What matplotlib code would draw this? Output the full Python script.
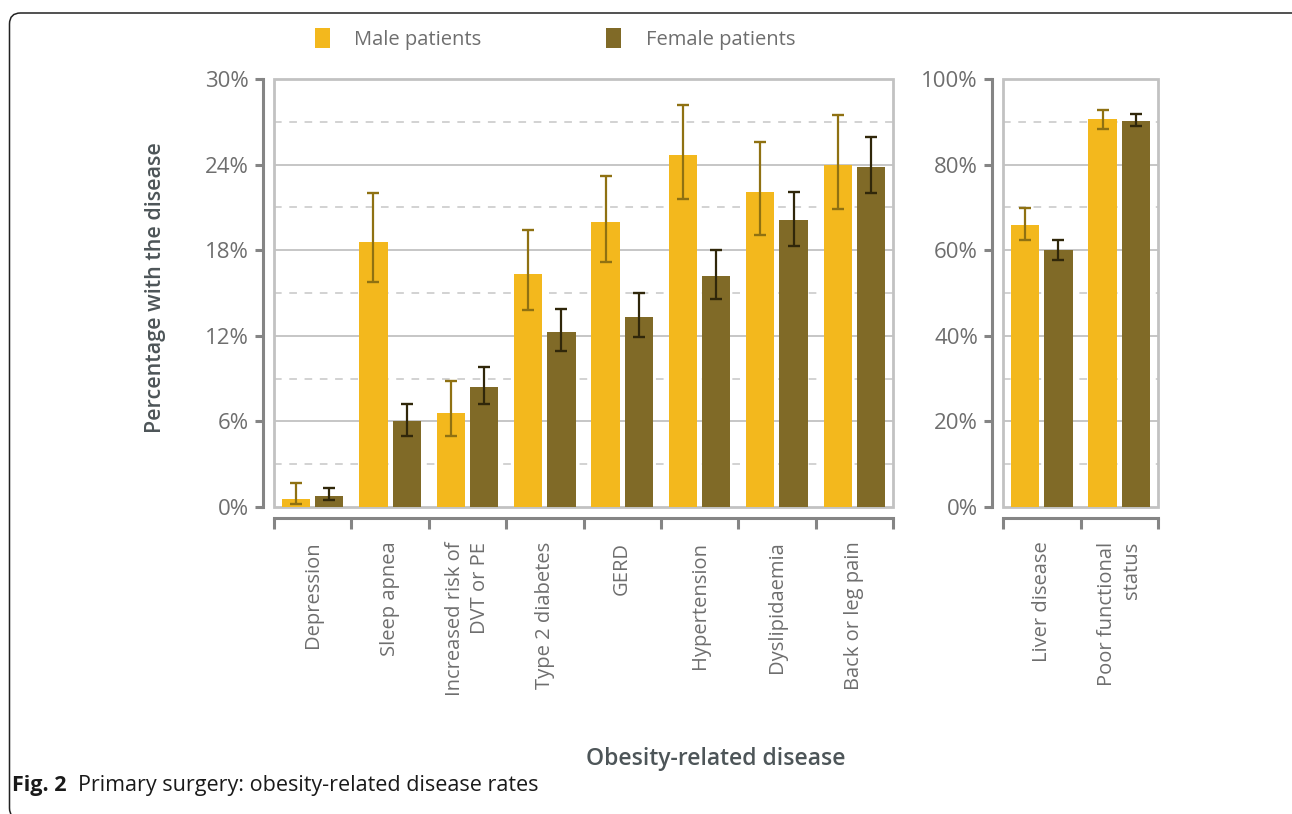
import numpy as np
import matplotlib
matplotlib.use("Agg")
import matplotlib.pyplot as plt
from matplotlib.patches import Patch, Rectangle, FancyBboxPatch
from matplotlib.transforms import IdentityTransform
from matplotlib.ticker import FixedLocator, FuncFormatter

plt.rcParams['font.family'] = ['Open Sans', 'DejaVu Sans']

# ---- data -------------------------------------------------------------
diseases_a = ["Depression", "Sleep apnea", "Increased risk of\nDVT or PE",
              "Type 2 diabetes", "GERD", "Hypertension", "Dyslipidaemia",
              "Back or leg pain"]
male_a = [0.55, 18.6, 6.6, 16.3, 20.0, 24.7, 22.1, 24.0]
male_a_lo = [0.2, 15.8, 5.0, 13.8, 17.2, 21.6, 19.1, 20.9]
male_a_hi = [1.65, 22.0, 8.85, 19.4, 23.2, 28.2, 25.6, 27.5]
female_a = [0.75, 6.0, 8.4, 12.3, 13.3, 16.2, 20.1, 23.8]
female_a_lo = [0.5, 5.0, 7.25, 10.9, 11.9, 14.6, 18.3, 22.0]
female_a_hi = [1.3, 7.25, 9.8, 13.9, 15.0, 18.0, 22.05, 25.9]

diseases_b = ["Liver disease", "Poor functional\nstatus"]
male_b = [65.9, 90.6]
male_b_lo = [62.4, 88.3]
male_b_hi = [69.9, 92.8]
female_b = [60.0, 90.3]
female_b_lo = [57.7, 89.0]
female_b_hi = [62.5, 91.8]

series_names = ["Male patients", "Female patients"]

# ---- styling ----------------------------------------------------------
C_MALE = "#F3B81D"
C_FEMALE = "#806A27"
C_MALE_ERR = "#8F7112"
C_FEMALE_ERR = "#30270A"
C_AXIS = "#858585"
C_FRAME = "#C2C2C2"
C_GRID = "#C6C6C6"
C_TEXT = "#6E6E6E"
C_TITLE = "#4D5558"
FS = 14.5
FS_Y = 16

W, H = 1292, 814
fig = plt.figure(figsize=(W / 100, H / 100), dpi=100)


def px_axes(x0, y0, x1, y1):
    return fig.add_axes([x0 / W, 1 - y1 / H, (x1 - x0) / W, (y1 - y0) / H])


def draw_panel(ax, cats, m, m_lo, m_hi, f, f_lo, f_hi, ymax, major, minor):
    n = len(cats)
    x = np.arange(n)
    off, bw = 0.215, 0.365
    m = np.asarray(m); f = np.asarray(f)
    m_err = [m - np.asarray(m_lo), np.asarray(m_hi) - m]
    f_err = [f - np.asarray(f_lo), np.asarray(f_hi) - f]
    ax.bar(x - off, m, bw, color=C_MALE, zorder=3)
    ax.bar(x + off, f, bw, color=C_FEMALE, zorder=3)
    ax.errorbar(x - off, m, yerr=m_err, fmt="none", ecolor=C_MALE_ERR,
                elinewidth=1.6, capsize=4.2, capthick=1.7, zorder=4)
    ax.errorbar(x + off, f, yerr=f_err, fmt="none", ecolor=C_FEMALE_ERR,
                elinewidth=1.6, capsize=4.2, capthick=1.7, zorder=4)

    ax.set_xlim(-0.5, n - 0.5)
    ax.set_ylim(0, ymax)

    # gridlines: solid at labelled ticks, dashed in between
    for v in np.arange(major, ymax, major):
        ax.axhline(v, color=C_GRID, lw=1.4, zorder=1)
    for v in np.arange(minor, ymax, major):
        ax.axhline(v, color=C_GRID, lw=1.1, ls=(0, (5, 5)), zorder=1)

    # light frame around the plotting area
    ax.add_patch(Rectangle((0, 0), 1, 1, transform=ax.transAxes, fill=False,
                           edgecolor=C_FRAME, lw=2.0, zorder=2, clip_on=False))

    for s in ("top", "right"):
        ax.spines[s].set_visible(False)
    ax.spines["left"].set_position(("outward", 8))
    ax.spines["bottom"].set_position(("outward", 8))
    for s in ("left", "bottom"):
        ax.spines[s].set_color(C_AXIS)
        ax.spines[s].set_linewidth(2.2)

    ax.yaxis.set_major_locator(FixedLocator(np.arange(0, ymax + 1e-9, major)))
    ax.yaxis.set_major_formatter(FuncFormatter(lambda v, p: f"{v:.0f}%"))
    ax.tick_params(axis="y", length=6, width=2.2, color=C_AXIS,
                   labelsize=FS_Y, labelcolor=C_TEXT, pad=4)

    ax.set_xticks(x)
    ax.set_xticklabels(cats, rotation=90, ha="center", va="top",
                       multialignment="right", linespacing=1.35)
    ax.set_xticks(np.arange(-0.5, n, 1.0), minor=True)
    ax.tick_params(axis="x", which="major", length=0, labelsize=FS,
                   labelcolor=C_TEXT, pad=17)
    ax.tick_params(axis="x", which="minor", length=8, width=2.2,
                   color=C_AXIS, direction="out")


ax1 = px_axes(274, 79, 893, 507)
draw_panel(ax1, diseases_a, male_a, male_a_lo, male_a_hi,
           female_a, female_a_lo, female_a_hi, 30, 6, 3)

ax2 = px_axes(1003, 79, 1158, 507)
draw_panel(ax2, diseases_b, male_b, male_b_lo, male_b_hi,
           female_b, female_b_lo, female_b_hi, 100, 20, 10)

# axis titles
fig.text(155 / W, 1 - 288 / H, "Percentage with the disease", rotation=90,
         ha="center", va="center", fontsize=15.5, fontweight="semibold",
         color=C_TITLE)
fig.text(716 / W, 1 - 759 / H, "Obesity-related disease", ha="center",
         va="center", fontsize=16.5, fontweight="semibold", color=C_TITLE)

# legend
handles = [Patch(facecolor=C_MALE, edgecolor="none"),
           Patch(facecolor=C_FEMALE, edgecolor="none")]
leg = fig.legend(handles, series_names, loc="center",
                 bbox_to_anchor=(555 / W, 1 - 39 / H), ncol=2, frameon=False,
                 fontsize=FS, handlelength=0.75, handleheight=1.15,
                 handletextpad=1.2, columnspacing=6.2)
for t in leg.get_texts():
    t.set_color(C_TEXT)

# caption
cap_b = fig.text(12 / W, 1 - 786 / H, "Fig. 2", ha="left", va="center",
                 fontsize=15.5, fontweight="bold", color="#1A1A1A")
fig.canvas.draw()
bb = cap_b.get_window_extent()
fig.text((bb.x1 + 11) / W, 1 - 786 / H,
         "Primary surgery: obesity-related disease rates", ha="left",
         va="center", fontsize=15.5, color="#1A1A1A")

# rounded page frame: top and left edges inside the canvas, the rest runs off
frame = FancyBboxPatch((9.5, -5), 1400, H - 12.5 + 5 - 0.5,
                       boxstyle="round,pad=0,rounding_size=11",
                       transform=IdentityTransform(), fill=False,
                       edgecolor="#222222", lw=1.1, clip_on=False)
fig.patches.append(frame)

fig.savefig("out.png", dpi=100, facecolor="white")
